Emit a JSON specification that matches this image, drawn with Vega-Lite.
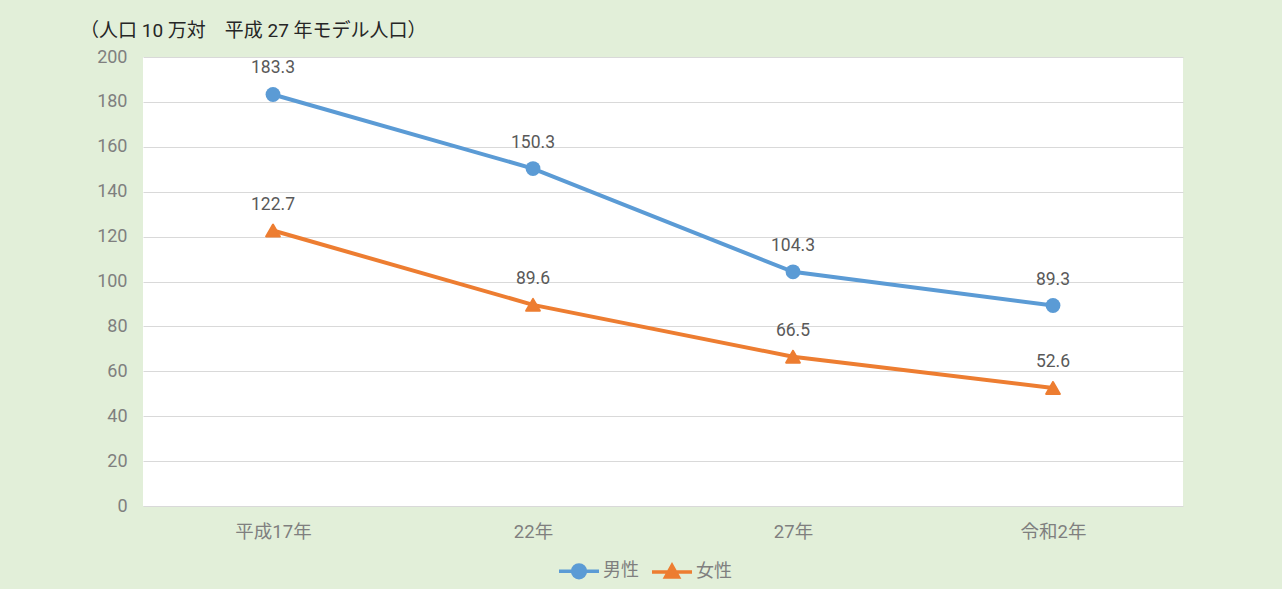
{
  "$schema": "https://vega.github.io/schema/vega-lite/v6.json",
  "width": 1040,
  "height": 449,
  "autosize": {"type": "none"},
  "padding": {"left": 143, "top": 57, "right": 99, "bottom": 83},
  "background": "#e2efd9",
  "config": {
    "view": {"fill": "#ffffff", "stroke": null},
    "font": "Roboto, Noto Sans CJK JP"
  },
  "title": {
    "text": "（人口 10 万対　平成 27 年モデル人口）",
    "anchor": "start",
    "frame": "group",
    "dx": -63,
    "offset": 7,
    "fontSize": 19,
    "fontWeight": "normal",
    "color": "#262626",
    "font": "Roboto, Noto Sans CJK JP"
  },
  "data": {
    "values": [
      {"year": "平成17年", "sex": "男性", "value": 183.3},
      {"year": "22年", "sex": "男性", "value": 150.3},
      {"year": "27年", "sex": "男性", "value": 104.3},
      {"year": "令和2年", "sex": "男性", "value": 89.3},
      {"year": "平成17年", "sex": "女性", "value": 122.7},
      {"year": "22年", "sex": "女性", "value": 89.6},
      {"year": "27年", "sex": "女性", "value": 66.5},
      {"year": "令和2年", "sex": "女性", "value": 52.6}
    ]
  },
  "encoding": {
    "x": {
      "field": "year",
      "type": "ordinal",
      "sort": ["平成17年", "22年", "27年", "令和2年"],
      "scale": {"type": "point", "padding": 0.5},
      "axis": {
        "title": null,
        "labelAngle": 0,
        "domain": false,
        "ticks": false,
        "grid": false,
        "labelFontSize": 18.5,
        "labelColor": "#7f7f7f",
        "labelPadding": 16,
        "labelFont": "Roboto, Noto Sans CJK JP"
      }
    },
    "y": {
      "field": "value",
      "type": "quantitative",
      "scale": {"domain": [0, 200]},
      "axis": {
        "title": null,
        "values": [0, 20, 40, 60, 80, 100, 120, 140, 160, 180, 200],
        "domain": false,
        "ticks": false,
        "gridColor": "#d9d9d9",
        "gridWidth": 1,
        "labelFontSize": 18,
        "labelColor": "#7f7f7f",
        "labelPadding": 16,
        "labelFont": "Roboto, Noto Sans CJK JP"
      }
    }
  },
  "layer": [
    {
      "mark": {"type": "line", "strokeWidth": 4},
      "encoding": {
        "color": {
          "field": "sex",
          "type": "nominal",
          "sort": ["男性", "女性"],
          "scale": {"domain": ["男性", "女性"], "range": ["#5b9bd5", "#ed7d31"]},
          "legend": {
            "title": null,
            "orient": "none",
            "legendX": 414,
            "legendY": 492,
            "direction": "horizontal",
            "symbolSize": 1600,
            "symbolStrokeWidth": 3.5,
            "labelFontSize": 18,
            "labelColor": "#7f7f7f",
            "labelFont": "Roboto, Noto Sans CJK JP",
            "labelOffset": 2,
            "columnPadding": 6,
            "encode": {
              "symbols": {
                "update": {
                  "shape": {"signal": "datum.value === '男性' ? 'M-1,0H1M0.32,0A0.32,0.32 0 1 1 -0.32,0A0.32,0.32 0 1 1 0.32,0Z' : 'M-1,0H1M0,-0.32L0.32,0.26L-0.32,0.26Z'"},
                  "fill": {"signal": "datum.value === '男性' ? '#5b9bd5' : '#ed7d31'"},
                  "fillOpacity": {"value": 1},
                  "stroke": {"signal": "datum.value === '男性' ? '#5b9bd5' : '#ed7d31'"},
                  "strokeWidth": {"value": 3.5}
                }
              }
            }
          }
        }
      }
    },
    {
      "mark": {"type": "point", "filled": true, "opacity": 1, "size": 220, "shape": "circle", "color": "#5b9bd5"},
      "transform": [{"filter": "datum.sex === '男性'"}]
    },
    {
      "mark": {"type": "point", "filled": true, "opacity": 1, "size": 190, "shape": "triangle-up", "color": "#ed7d31", "stroke": "#ed7d31", "strokeWidth": 2, "strokeJoin": "round"},
      "transform": [{"filter": "datum.sex === '女性'"}]
    },
    {
      "mark": {"type": "text", "dy": -26, "fontSize": 17.5, "color": "#595959", "font": "Roboto, Noto Sans CJK JP"},
      "encoding": {
        "text": {"field": "value", "type": "quantitative", "format": ".1f"}
      }
    }
  ]
}
